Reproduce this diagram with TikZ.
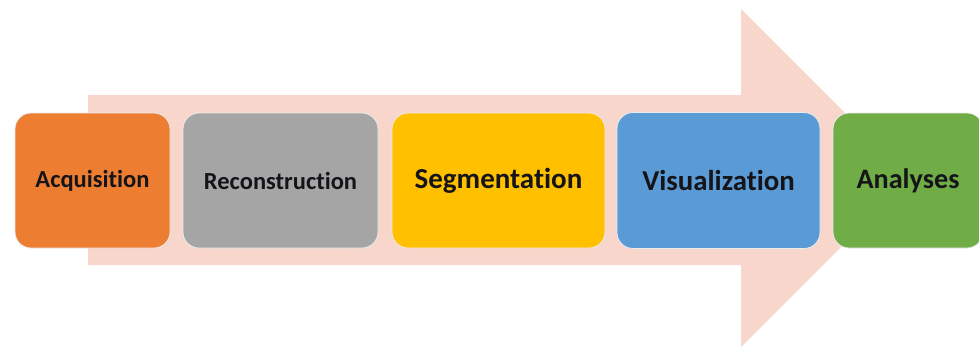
\documentclass[tikz,border=0pt]{standalone}
\usepackage{fontspec}
\setmainfont[RawFeature={-liga}]{Carlito}
\definecolor{arrowpink}{RGB}{248,214,204}
\definecolor{cOrange}{RGB}{237,125,49}
\definecolor{cGray}{RGB}{165,165,165}
\definecolor{cYellow}{RGB}{255,192,0}
\definecolor{cBlue}{RGB}{91,155,213}
\definecolor{cGreen}{RGB}{112,173,71}
\definecolor{txt}{RGB}{20,20,25}
\begin{document}
\begin{tikzpicture}[x=1pt,y=-1pt,
  stagebox/.style={draw=white!92!black,line width=0.8pt,rounded corners=16pt,inner sep=0pt,
    font=\bfseries,text=txt},
  ]
\useasboundingbox (0,0) rectangle (979,349);
% big arrow
\fill[arrowpink] (88,95) -- (741,95) -- (741,9) -- (910,178) -- (741,347) -- (741,265) -- (88,265) -- cycle;
% boxes
\node[stagebox,fill=cOrange,minimum width=155pt,minimum height=135pt,font=\bfseries\fontsize{24.5}{28}\selectfont] (acq) at (92.5,180.5) {Acquisition};
\node[stagebox,fill=cGray,minimum width=195pt,minimum height=135pt,font=\bfseries\fontsize{24.5}{28}\selectfont] (rec) at (280.5,180.5) {Reconstruction};
\node[stagebox,fill=cYellow,minimum width=213pt,minimum height=135pt,font=\bfseries\fontsize{29}{32}\selectfont] (seg) at (498.5,180.5) {Segmentation};
\node[stagebox,fill=cBlue,minimum width=203pt,minimum height=136pt,font=\bfseries\fontsize{28.8}{32}\selectfont] (vis) at (718.5,180.5) {Visualization};
\node[stagebox,fill=cGreen,minimum width=150pt,minimum height=135pt,font=\bfseries\fontsize{28.2}{32}\selectfont] (ana) at (908,180.5) {Analyses};
\end{tikzpicture}
\end{document}
